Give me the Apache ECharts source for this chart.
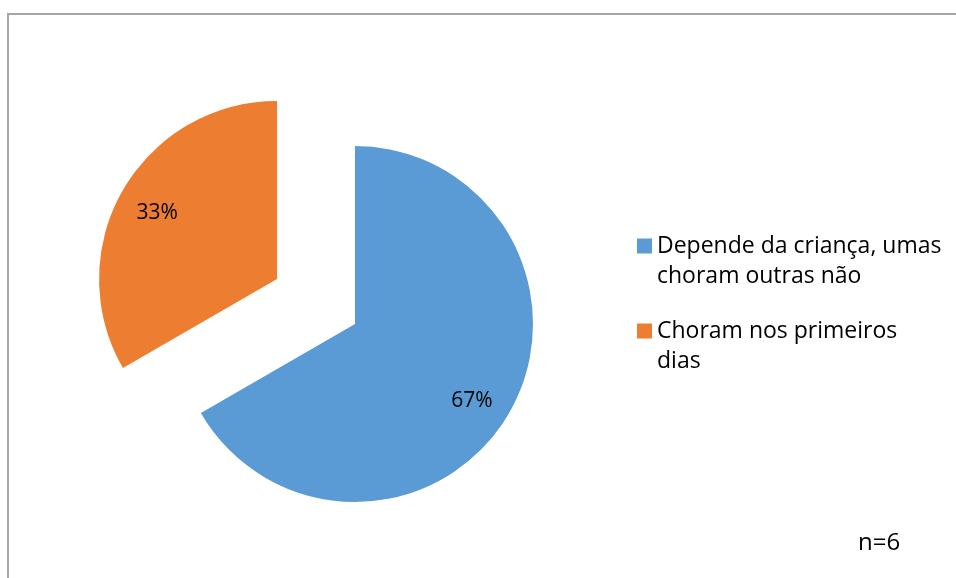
<!DOCTYPE html>
<html>
<head>
<meta charset="utf-8">
<script src="https://cdn.jsdelivr.net/npm/echarts@6/dist/echarts.min.js"></script>
<style>html,body{margin:0;padding:0;background:#fff}#c{width:956px;height:578px}</style>
</head>
<body>
<div id="c"></div>
<script>
const categories = ['Depende da criança, umas choram outras não', 'Choram nos primeiros dias'];
const values = [4, 2];
const colors = ['#5B9BD5', '#ED7D31'];
const note = 'n=6';

const chart = echarts.init(document.getElementById('c'), null, {renderer: 'canvas'});
const FONT = '"Open Sans"';
const pieData = categories.map((n, i) => ({
  name: n, value: values[i], selected: i === 1,
  itemStyle: {color: colors[i]}
}));
const labelData = categories.map((n, i) => ({
  name: n, value: values[i], selected: i === 1,
  itemStyle: {color: 'rgba(0,0,0,0)'}
}));
function legendText(w) {
  return {fontFamily: FONT, fontSize: 23, color: '#000', width: w, overflow: 'break', lineHeight: 30};
}
const legendBase = {
  orient: 'vertical', left: 637, padding: 0, itemWidth: 15, itemHeight: 15, itemGap: 0, icon: 'rect',
  selectedMode: false, formatter: name => '\n' + name
};
chart.setOption({
  animation: false,
  backgroundColor: '#fff',
  graphic: [
    {type: 'rect', shape: {x: 8, y: 14, width: 1200, height: 1200}, style: {fill: 'none', stroke: '#A6A6A6', lineWidth: 2}, silent: true},
    {type: 'text', left: 858, top: 531, style: {text: note, font: '24px ' + FONT, fill: '#000'}}
  ],
  legend: [
    Object.assign({}, legendBase, {top: 201, data: [categories[0]], textStyle: legendText(320)}),
    Object.assign({}, legendBase, {top: 286, data: [categories[1]], textStyle: legendText(280)})
  ],
  series: [
    {
      type: 'pie', center: [355, 324], radius: [0, 178], startAngle: 90, clockwise: true,
      selectedMode: 'single', selectedOffset: 90, avoidLabelOverlap: false,
      label: {show: false}, labelLine: {show: false},
      emphasis: {disabled: true}, silent: true,
      data: pieData
    },
    {
      type: 'pie', center: [355, 324], radius: [100, 178], startAngle: 90, clockwise: true,
      selectedMode: 'single', selectedOffset: 90, avoidLabelOverlap: false,
      label: {show: true, position: 'inside', formatter: p => Math.round(p.percent) + '%',
        fontFamily: FONT, fontSize: 21, color: '#000'},
      labelLayout: p => (p.dataIndex === 0 ? {dx: -6, dy: 6} : {dx: 3, dy: 5}),
      labelLine: {show: false},
      emphasis: {disabled: true}, silent: true,
      data: labelData
    }
  ]
});
</script>
</body>
</html>
